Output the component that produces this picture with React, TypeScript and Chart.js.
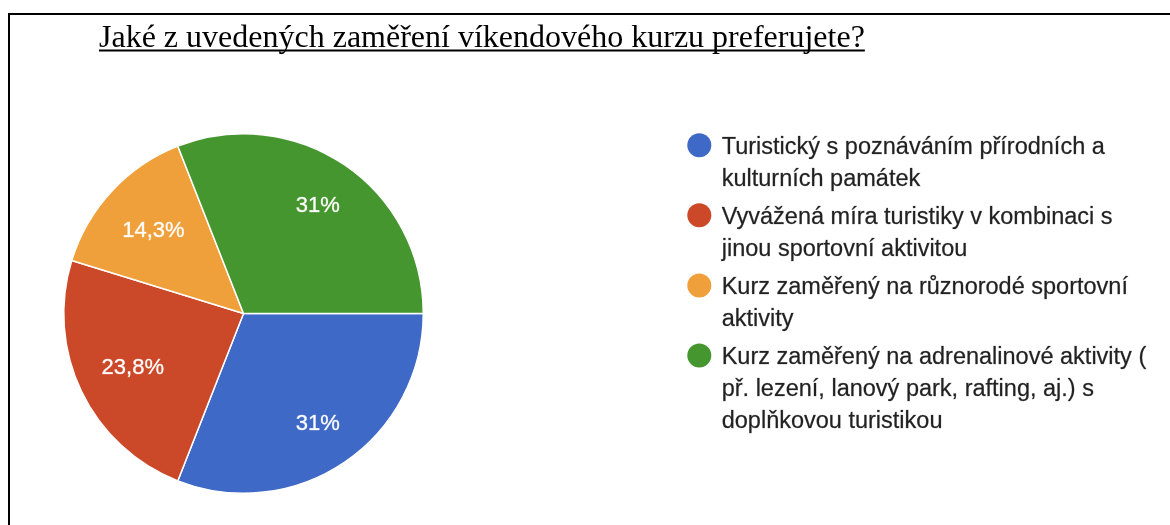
import React, { useEffect, useRef } from "react";
import { Chart, registerables } from "chart.js";

Chart.register(...registerables);

const TITLE = "Jaké z uvedených zaměření víkendového kurzu preferujete?";
const CATEGORIES = [
  "Turistický s poznáváním přírodních a kulturních památek",
  "Vyvážená míra turistiky v kombinaci s jinou sportovní aktivitou",
  "Kurz zaměřený na různorodé sportovní aktivity",
  "Kurz zaměřený na adrenalinové aktivity ( př. lezení, lanový park, rafting, aj.) s doplňkovou turistikou",
];
const LEGEND_LINES = [
  ["Turistický s poznáváním přírodních a", "kulturních památek"],
  ["Vyvážená míra turistiky v kombinaci s", "jinou sportovní aktivitou"],
  ["Kurz zaměřený na různorodé sportovní", "aktivity"],
  ["Kurz zaměřený na adrenalinové aktivity (", "př. lezení, lanový park, rafting, aj.) s", "doplňkovou turistikou"],
];
const VALUES = [13, 10, 6, 13];
const PERCENT_LABELS = ["31%", "23,8%", "14,3%", "31%"];
const COLORS = ["#3f69c7", "#cb4828", "#f0a03b", "#46962f"];

const SANS = "Arial, 'Liberation Sans', Roboto, sans-serif";

const sliceLabels = {
  id: "sliceLabels",
  afterDatasetsDraw(chart: any) {
    const ctx = chart.ctx;
    const meta = chart.getDatasetMeta(0);
    ctx.save();
    ctx.font = `22px ${SANS}`;
    ctx.fillStyle = "#ffffff";
    ctx.strokeStyle = "rgba(255,255,255,0.5)";
    ctx.lineWidth = 0.6;
    ctx.textAlign = "center";
    ctx.textBaseline = "middle";
    meta.data.forEach((arc: any, i: number) => {
      const { x, y, startAngle, endAngle, outerRadius } = arc.getProps(
        ["x", "y", "startAngle", "endAngle", "outerRadius"],
        true
      );
      const mid = (startAngle + endAngle) / 2;
      const text = PERCENT_LABELS[i];
      const w = ctx.measureText(text).width;
      const r = outerRadius * 0.857 - w / 2;
      const lx = x + Math.cos(mid) * r;
      const ly = y + Math.sin(mid) * r + 1.5;
      ctx.fillText(text, lx, ly);
      ctx.strokeText(text, lx, ly);
    });
    ctx.restore();
  },
};

const titleAndLegend = {
  id: "titleAndLegend",
  afterDraw(chart: any) {
    const ctx = chart.ctx;
    ctx.save();
    // title
    ctx.font = `32px 'Liberation Serif', 'Times New Roman', serif`;
    ctx.fillStyle = "#000000";
    ctx.textAlign = "left";
    ctx.textBaseline = "alphabetic";
    const tx = 89;
    const ty = 32;
    const tw = ctx.measureText(TITLE).width;
    ctx.fillText(TITLE, tx, ty);
    ctx.fillRect(tx, ty + 2.5, tw, 2);

    // legend
    const circleX = 689.3;
    const textX = 711.7;
    const lineH = 31.7;
    const gap = 6.7;
    let yy = 132.5;
    ctx.font = `23.5px ${SANS}`;
    ctx.textBaseline = "middle";
    ctx.strokeStyle = "rgba(34,34,34,0.45)";
    ctx.lineWidth = 0.5;
    LEGEND_LINES.forEach((lines, i) => {
      ctx.fillStyle = COLORS[i];
      ctx.beginPath();
      ctx.arc(circleX, yy - 2.3, 12, 0, Math.PI * 2);
      ctx.fill();
      ctx.fillStyle = "#222222";
      lines.forEach((ln, j) => {
        ctx.fillText(ln, textX, yy + j * lineH);
        ctx.strokeText(ln, textX, yy + j * lineH);
      });
      yy += lines.length * lineH + gap;
    });
    ctx.restore();
  },
};

export default function App() {
  const ref = useRef<HTMLCanvasElement | null>(null);
  useEffect(() => {
    if (!ref.current) return;
    const chart = new Chart(ref.current, {
      type: "pie",
      data: {
        labels: CATEGORIES,
        datasets: [
          {
            data: VALUES,
            backgroundColor: COLORS,
            borderColor: "#ffffff",
            borderWidth: 1.5,
          },
        ],
      },
      options: {
        responsive: false,
        animation: false,
        rotation: 90,
        layout: { padding: { left: 53, right: 746, top: 118, bottom: 31 } },
        plugins: {
          legend: { display: false },
          title: { display: false },
          tooltip: { enabled: false },
        },
      },
      plugins: [sliceLabels, titleAndLegend],
    });
    return () => chart.destroy();
  }, []);
  return (
    <div
      style={{
        position: "absolute",
        left: 8,
        top: 13,
        width: 1162,
        height: 512,
        borderTop: "2px solid #000",
        borderLeft: "2px solid #000",
        background: "#fff",
      }}
    >
      <canvas ref={ref} width={1160} height={510} style={{ display: "block" }} />
    </div>
  );
}
